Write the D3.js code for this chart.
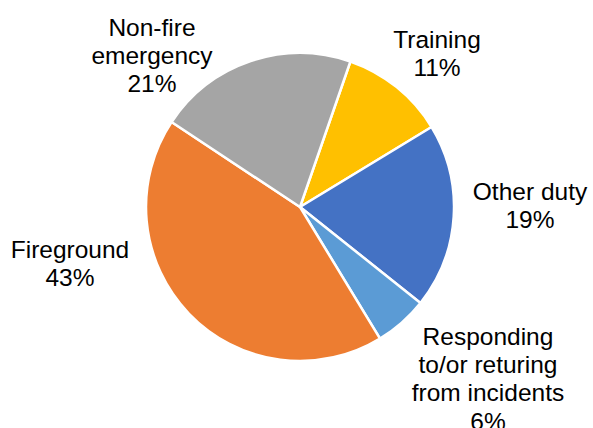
<!DOCTYPE html>
<html>
<head>
<meta charset="utf-8">
<script src="https://cdn.jsdelivr.net/npm/d3@7"></script>
<style>
  html, body { margin: 0; padding: 0; background: #fff; }
  svg { display: block; }
  text { font-family: "Liberation Sans", Arial, sans-serif; font-size: 24.5px; fill: #000; }
</style>
</head>
<body>
<svg id="chart" width="593" height="428"></svg>
<script>
// Data (clockwise from the top-right slice)
const categories = ["Training", "Other duty", "Responding to/or returing from incidents", "Fireground", "Non-fire emergency"];
const labelLines = [["Training"], ["Other duty"], ["Responding", "to/or returing", "from incidents"], ["Fireground"], ["Non-fire", "emergency"]];
const values = [11, 19.4, 5.6, 43, 21];
const colors = ["#FFC000", "#4472C4", "#5B9BD5", "#ED7D31", "#A5A5A5"];

// Layout
const cx = 300, cy = 207, radius = 154;
const startDeg = 19.1;
const labelPos = [
  { x: 437, y: 47.5 },
  { x: 530, y: 200 },
  { x: 488, y: 344.5 },
  { x: 70, y: 257.5 },
  { x: 152, y: 35.5 }
];
const lineH = 28.4;

const svg = d3.select("#chart");
const g = svg.append("g").attr("transform", `translate(${cx},${cy})`);

const start = startDeg * Math.PI / 180;
const pie = d3.pie().sort(null).value(d => d).startAngle(start).endAngle(start + 2 * Math.PI);
const arc = d3.arc().innerRadius(0).outerRadius(radius);
const total = d3.sum(values);
const pct = d => d3.format(".0f")(d / total * 100) + "%";

g.selectAll("path")
  .data(pie(values))
  .join("path")
  .attr("d", arc)
  .attr("fill", (d, i) => colors[i])
  .attr("stroke", "#fff")
  .attr("stroke-width", 2.5)
  .attr("stroke-linejoin", "round");

const labels = svg.append("g");
values.forEach((v, i) => {
  const lines = labelLines[i].concat([pct(v)]);
  const t = labels.append("text")
    .attr("text-anchor", "middle")
    .attr("x", labelPos[i].x)
    .attr("y", labelPos[i].y);
  lines.forEach((ln, j) => {
    t.append("tspan")
      .attr("x", labelPos[i].x)
      .attr("dy", j === 0 ? 0 : lineH)
      .text(ln);
  });
});
</script>
</body>
</html>
